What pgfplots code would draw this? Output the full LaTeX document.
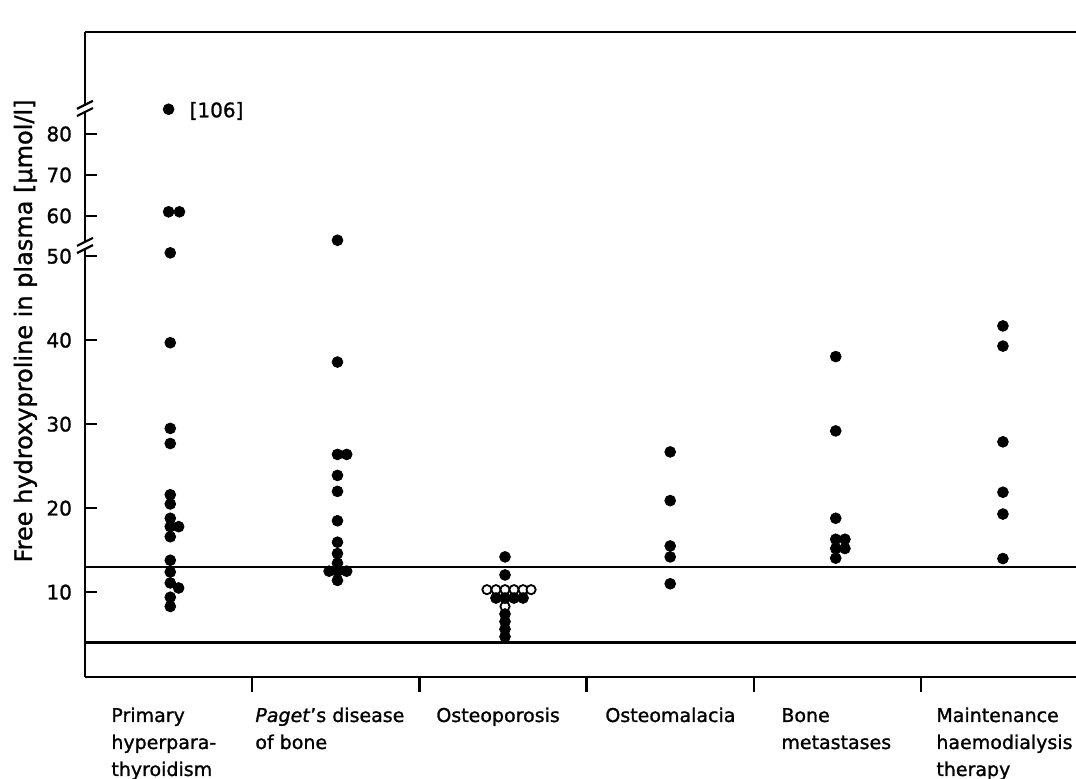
\documentclass[border=0pt]{standalone}
\usepackage{fontspec}
\setmainfont[FakeBold=1.2]{DejaVu Sans}
\usepackage{pgfplots}
\pgfplotsset{compat=1.18}
\begin{document}
\begin{tikzpicture}
\begin{axis}[
  scale only axis, width=495.5pt, height=322.5pt,
  xmin=0, xmax=5.927, ymin=-0.1, ymax=124.4,
  y coord trafo/.code={\pgfmathparse{ifthenelse(#1<52,#1,ifthenelse(#1<90,54.8+(#1-60)*0.488,67.5+(#1-106)*0.5))}},
  axis line style={draw=none},
  xtick=\empty,
  ytick={10,20,30,40,50,60,70,80},
  yticklabels={10,20,30,40,50,60,70,80},
  ytick pos=left, tick align=inside, major tick length=6pt,
  y tick style={black, line width=1.2pt},
  yticklabel style={font=\fontsize{10}{12}\selectfont, xshift=-3pt},
  /pgf/number format/assume math mode=true,
  clip=false,
]
% frame lines
\draw[line width=1.25pt] (rel axis cs:0,0) -- (rel axis cs:1,0);
\draw[line width=1.25pt] (rel axis cs:0,1) -- (rel axis cs:1,1);
\draw[line width=1.25pt] (rel axis cs:0,0) -- (rel axis cs:0,1);
% category separators
\pgfplotsinvokeforeach{1,2,3,4,5}{
  \draw[line width=1.2pt] (rel axis cs:#1/5.927,0) -- ++(0,-8pt);
}
% axis breaks
\pgfplotsinvokeforeach{0.669,0.8815}{
  \fill[white] ([shift={(-1.5pt,-1.6pt)}]rel axis cs:0,#1) rectangle ([shift={(1.5pt,1.6pt)}]rel axis cs:0,#1);
  \draw[line width=1.1pt] ([shift={(-4pt,-3.8pt)}]rel axis cs:0,#1) -- ++(8pt,4pt);
  \draw[line width=1.1pt] ([shift={(-4pt,-0.2pt)}]rel axis cs:0,#1) -- ++(8pt,4pt);
}
% reference range lines
\addplot[black, line width=1.2pt] coordinates {(0,13.0) (5.927,13.0)};
\addplot[black, line width=1.2pt] coordinates {(0,4.0) (5.927,4.0)};

% Primary hyperparathyroidism
\addplot[only marks, mark=*, mark size=2.7pt, black] coordinates {
 (0.50,106) (0.50,61) (0.565,61) (0.51,50.4) (0.51,39.7) (0.51,29.5) (0.51,27.7)
 (0.51,21.6) (0.51,20.5) (0.51,18.8) (0.51,17.8) (0.56,17.8) (0.51,16.6)
 (0.51,13.8) (0.51,12.4) (0.51,11.1) (0.56,10.5) (0.51,9.4) (0.51,8.3)
};
% Paget's disease of bone
\addplot[only marks, mark=*, mark size=2.7pt, black] coordinates {
 (1.51,51.9) (1.51,37.4) (1.51,26.4) (1.565,26.4) (1.51,23.9) (1.51,22.0)
 (1.51,18.5) (1.51,15.95) (1.51,14.6) (1.51,13.45) (1.46,12.5) (1.51,12.5)
 (1.565,12.5) (1.51,11.4)
};
% Osteoporosis
\addplot[only marks, mark=*, mark size=2.7pt, black] coordinates {
 (2.512,14.2) (2.512,12.05)
};
\addplot[only marks, mark=*, mark size=2.3pt, mark options={fill=white, draw=black, line width=0.9pt}] coordinates {
 (2.404,10.3) (2.458,10.3) (2.512,10.3) (2.566,10.3) (2.62,10.3) (2.668,10.3) (2.512,8.3)
};
\addplot[only marks, mark=*, mark size=2.7pt, black] coordinates {
 (2.458,9.3) (2.512,9.3) (2.566,9.3) (2.62,9.3)
 (2.512,7.4) (2.512,6.5) (2.512,5.6) (2.512,4.7)
};
% Osteomalacia
\addplot[only marks, mark=*, mark size=2.7pt, black] coordinates {
 (3.50,26.7) (3.50,20.9) (3.50,15.5) (3.50,14.2) (3.50,11.0)
};
% Bone metastases
\addplot[only marks, mark=*, mark size=2.7pt, black] coordinates {
 (4.49,38.05) (4.49,29.2) (4.49,18.8) (4.49,16.3) (4.545,16.3)
 (4.49,15.2) (4.545,15.2) (4.49,14.05)
};
% Maintenance haemodialysis therapy
\addplot[only marks, mark=*, mark size=2.7pt, black] coordinates {
 (5.49,41.7) (5.49,39.3) (5.49,27.9) (5.49,21.9) (5.49,19.3) (5.49,14.0)
};
\node[anchor=base west, font=\fontsize{10}{12}\selectfont, xshift=7pt, yshift=-4pt] at (axis cs:0.50,106) {[106]};
\coordinate (O) at (rel axis cs:0,0);
\end{axis}
\begin{scope}[shift={(O)}, every node/.style={anchor=base west, inner sep=0pt, font=\fontsize{9.5}{11}\selectfont}]
  \node at (13pt,-22.5pt) {Primary};
  \node at (13pt,-36pt) {hyperpara-};
  \node at (13pt,-49.5pt) {thyroidism};
  \node at (85pt,-22.5pt) {\textit{Paget}'s disease};
  \node at (85pt,-36pt) {of bone};
  \node at (175.5pt,-22.5pt) {Osteoporosis};
  \node at (260pt,-22.5pt) {Osteomalacia};
  \node at (348pt,-22.5pt) {Bone};
  \node at (348pt,-36pt) {metastases};
  \node at (425.5pt,-22.5pt) {Maintenance};
  \node at (425.5pt,-36pt) {haemodialysis};
  \node at (425.5pt,-49.5pt) {therapy};
  \node[rotate=90, anchor=base, font=\fontsize{12}{14}\selectfont] at (-26.5pt,173pt) {Free hydroxyproline in plasma [µmol/l]};
\end{scope}
\pgfresetboundingbox
\path[use as bounding box] (O) ++(-42.5pt,-51pt) rectangle ++(538pt,389.5pt);
\end{tikzpicture}
\end{document}
